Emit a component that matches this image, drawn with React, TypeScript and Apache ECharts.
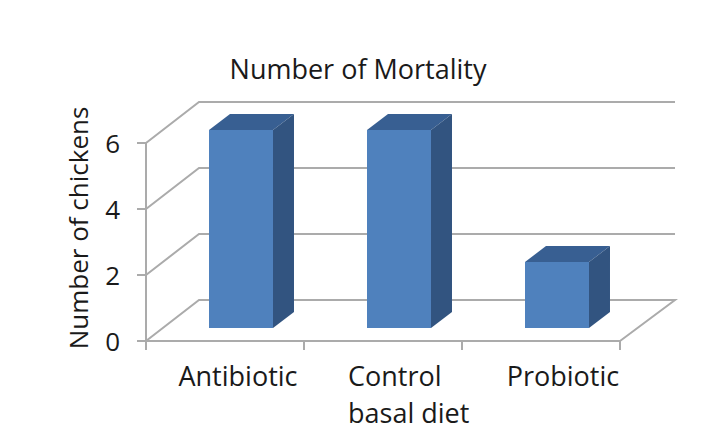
import React, { useEffect, useRef } from "react";
import * as echarts from "echarts";

const categories = ["Antibiotic", "Control\nbasal diet", "Probiotic"];
const labelPadding = [26, 49, 44];
const mortality = [6, 6, 2];
const yTicks = [0, 2, 4, 6];
const FONT = "Open Sans";

const WALL = { dx: 53, dy: -41, rightExtra: 55 };
const BAR = { dx: 21, dy: -16, shiftX: 16, shiftY: -13, ratio: 0.405 };
const LINE = "#ababab";

export default function App() {
  const ref = useRef<HTMLDivElement>(null);
  useEffect(() => {
    const chart = echarts.init(ref.current!, undefined, { renderer: "svg" });
    chart.setOption({
      animation: false,
      backgroundColor: "#fff",
      title: {
        text: "Number of Mortality",
        left: 353,
        top: 50,
        textAlign: "center",
        textStyle: { fontFamily: FONT, fontSize: 27, fontWeight: "normal", color: "#1a1a1a" },
      },
      grid: { left: 146, right: 87, top: 143, bottom: 107 },
      xAxis: {
        type: "category",
        data: categories.map((c, i) => ({
          value: c,
          textStyle: { padding: [0, 0, 0, labelPadding[i]] },
        })),
        axisLine: { show: true, lineStyle: { color: LINE, width: 2 } },
        axisTick: { show: true, length: 9, lineStyle: { color: LINE, width: 2 } },
        axisLabel: {
          fontFamily: FONT,
          fontSize: 27,
          color: "#1a1a1a",
          margin: 16,
          interval: 0,
          formatter: (v: string) =>
            v.includes("\n")
              ? v.split("\n").map((s) => `{l|${s}}`).join("\n")
              : `{s|${v}}`,
          rich: {
            l: { width: 119, align: "left", fontFamily: FONT, fontSize: 27, color: "#1a1a1a", lineHeight: 37 },
            s: { fontFamily: FONT, fontSize: 27, color: "#1a1a1a", lineHeight: 37 },
          },
        },
        splitLine: { show: false },
      },
      yAxis: {
        type: "value",
        min: 0,
        max: 6,
        interval: 2,
        name: "Number of chickens",
        nameLocation: "middle",
        nameGap: 55,
        nameTextStyle: { fontFamily: FONT, fontSize: 26, color: "#1a1a1a", padding: [0, 0, 0, 28] },
        axisLine: { show: true, lineStyle: { color: LINE, width: 2 } },
        axisTick: { show: true, length: 9, lineStyle: { color: LINE, width: 2 } },
        axisLabel: { fontFamily: FONT, fontSize: 26, color: "#1a1a1a", margin: 26 },
        splitLine: { show: false },
      },
      series: [
        {
          type: "custom",
          coordinateSystem: "cartesian2d",
          data: yTicks.map((t) => [0, t]),
          z: 1,
          silent: true,
          renderItem: (p: any, api: any) => {
            const y = api.coord([0, api.value(1)])[1];
            const left = p.coordSys.x;
            const right = p.coordSys.x + p.coordSys.width;
            const pts: number[][] = [
              [left, y],
              [left + WALL.dx, y + WALL.dy],
              [right + WALL.rightExtra, y + WALL.dy],
            ];
            if (api.value(1) === 0) pts.push([right, y]);
            return {
              type: "polyline",
              shape: { points: pts },
              style: { stroke: LINE, lineWidth: 2, fill: "none" },
            };
          },
        },
        {
          type: "custom",
          coordinateSystem: "cartesian2d",
          data: mortality.map((v, i) => [i, v]),
          z: 2,
          silent: true,
          renderItem: (_p: any, api: any) => {
            const top = api.coord([api.value(0), api.value(1)]);
            const base = api.coord([api.value(0), 0]);
            const w = api.size([1, 0])[0] * BAR.ratio;
            const l = top[0] + BAR.shiftX - w / 2;
            const r = l + w;
            const t = top[1] + BAR.shiftY;
            const b = base[1] + BAR.shiftY;
            return {
              type: "group",
              children: [
                { type: "polygon", shape: { points: [[l, t], [r, t], [r + BAR.dx, t + BAR.dy], [l + BAR.dx, t + BAR.dy]] }, style: { fill: "#385f92" } },
                { type: "polygon", shape: { points: [[r, t], [r + BAR.dx, t + BAR.dy], [r + BAR.dx, b + BAR.dy], [r, b]] }, style: { fill: "#325480" } },
                { type: "rect", shape: { x: l, y: t, width: w, height: b - t }, style: { fill: "#4f81bd" } },
              ],
            };
          },
        },
      ],
    });
    return () => chart.dispose();
  }, []);
  return <div ref={ref} style={{ width: 707, height: 448, position: "fixed", left: 0, top: 0 }} />;
}
